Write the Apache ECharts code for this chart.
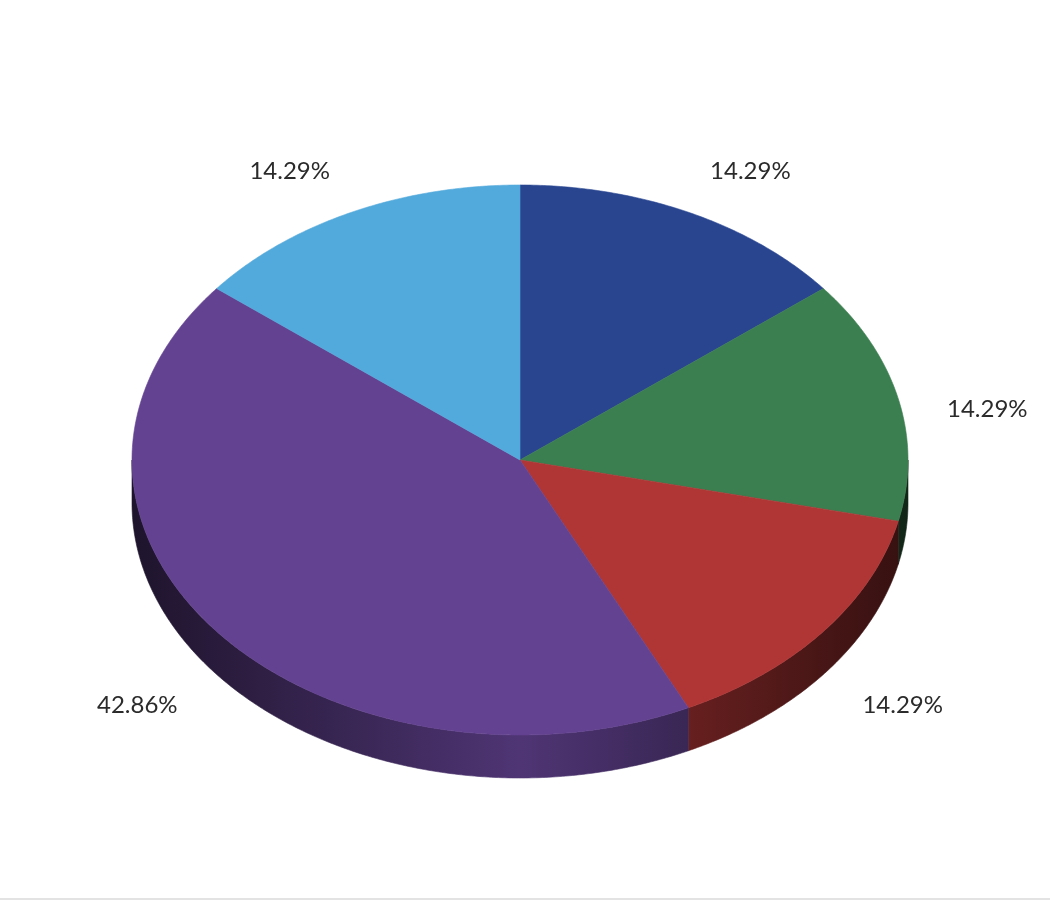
<!DOCTYPE html>
<html>
<head>
<meta charset="utf-8">
<script src="https://cdn.jsdelivr.net/npm/echarts@6/dist/echarts.min.js"></script>
<style>
html,body{margin:0;padding:0;background:#fff;}
#chart{width:1050px;height:900px;}
</style>
</head>
<body>
<div id="chart"></div>
<script>
const categories = ['A', 'B', 'C', 'D', 'E'];
const values = [1, 1, 1, 3, 1];
const sliceColors = ['#294590', '#3b7e4f', '#b03535', '#634291', '#52a9dc'];

const total = values.reduce((a, b) => a + b, 0);
const cum = [0];
values.forEach((v, i) => cum.push(cum[i] + v));

const CX = 520, CY = 460, RX = 388, RY = 275, DEPTH = 43;
const LRX = 438, LRY = 350, LDY = 27;

function pt(t, dy) { return [CX + RX * Math.sin(t), CY - RY * Math.cos(t) + (dy || 0)]; }

function hexToRgb(h) {
  const n = parseInt(h.slice(1), 16);
  return [(n >> 16) & 255, (n >> 8) & 255, n & 255];
}
function shade(hex, f) {
  const c = hexToRgb(hex);
  return 'rgb(' + c.map(v => Math.round(v * f)).join(',') + ')';
}
function wallGradient(hex) {
  const stops = [];
  for (let k = 0; k <= 20; k++) {
    const t = -1 + k / 10;
    const f = 0.8 - 0.5 * Math.abs(t);
    stops.push({ offset: k / 20, color: shade(hex, f) });
  }
  return new echarts.graphic.LinearGradient(CX - RX, 0, CX + RX, 0, stops, true);
}

function renderItem(params, api) {
  const i = params.dataIndex;
  const a0 = cum[i] / total * Math.PI * 2;
  const a1 = cum[i + 1] / total * Math.PI * 2;
  const color = sliceColors[i];
  const children = [];

  const w0 = Math.max(a0, Math.PI / 2), w1 = Math.min(a1, Math.PI * 1.5);
  if (w1 > w0) {
    const n = Math.max(4, Math.ceil((w1 - w0) / (Math.PI / 360)));
    const pts = [];
    for (let k = 0; k <= n; k++) pts.push(pt(w0 + (w1 - w0) * k / n, 0));
    for (let k = n; k >= 0; k--) pts.push(pt(w0 + (w1 - w0) * k / n, DEPTH));
    const g = wallGradient(color);
    children.push({ type: 'polygon', shape: { points: pts }, style: { fill: g, stroke: g, lineWidth: 0.6 } });
  }

  const n2 = Math.max(4, Math.ceil((a1 - a0) / (Math.PI / 360)));
  const top = [[CX, CY]];
  for (let k = 0; k <= n2; k++) top.push(pt(a0 + (a1 - a0) * k / n2, 0));
  children.push({ type: 'polygon', shape: { points: top }, style: { fill: color, stroke: color, lineWidth: 0.6 } });

  const mid = (a0 + a1) / 2;
  const s = Math.sin(mid);
  const pct = (api.value(0) / total * 100).toFixed(2) + '%';
  children.push({
    type: 'text',
    x: CX + LRX * s,
    y: CY + LDY - LRY * Math.cos(mid),
    style: {
      text: pct,
      fill: '#2b2b2b',
      font: '400 24px Lato, "Open Sans", sans-serif',
      align: s >= 0 ? 'left' : 'right',
      verticalAlign: 'middle'
    }
  });
  return { type: 'group', children: children };
}

const chart = echarts.init(document.getElementById('chart'), null, { renderer: 'canvas' });
chart.setOption({
  backgroundColor: '#ffffff',
  animation: false,
  graphic: [{
    type: 'rect', shape: { x: 0, y: 898, width: 1050, height: 2 }, style: { fill: '#e3e3e3' }, silent: true
  }],
  series: [{
    type: 'custom',
    coordinateSystem: 'none',
    renderItem: renderItem,
    data: values.map((v, i) => ({ name: categories[i], value: [v] }))
  }]
});
</script>
</body>
</html>
